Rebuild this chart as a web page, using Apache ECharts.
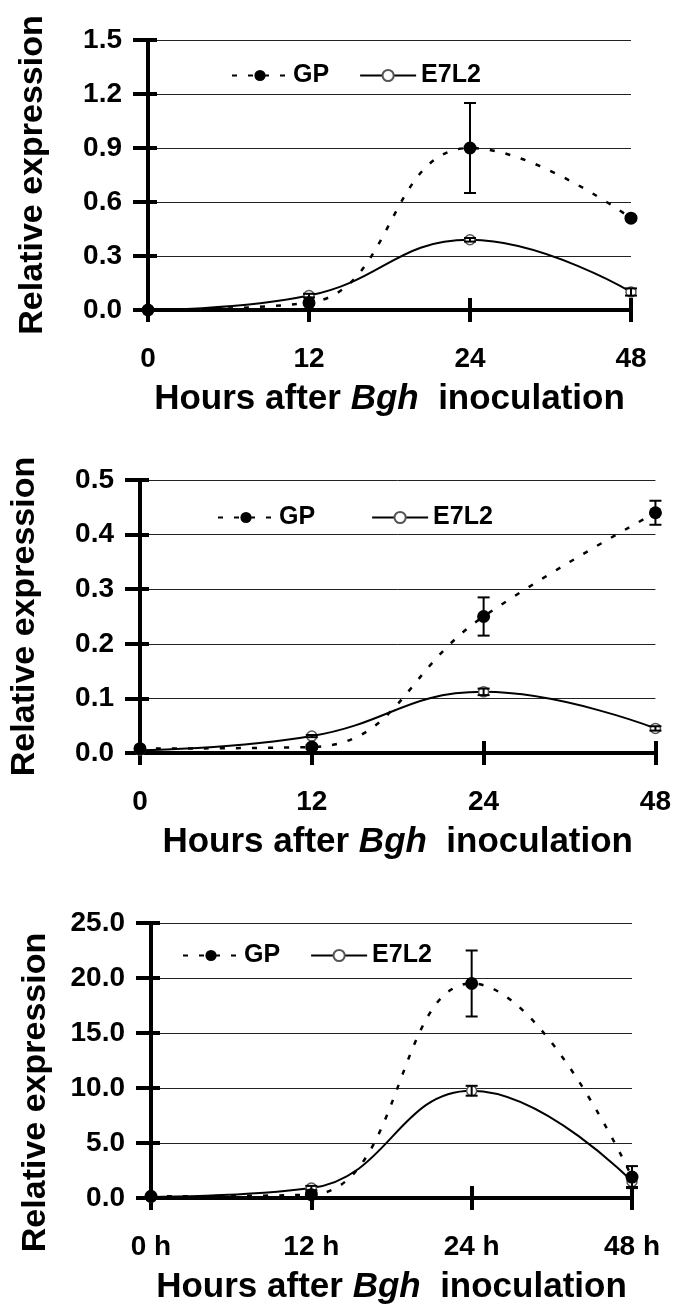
<!DOCTYPE html>
<html>
<head>
<meta charset="utf-8">
<script src="https://cdn.jsdelivr.net/npm/echarts@6/dist/echarts.min.js"></script>
<style>
html,body{margin:0;padding:0;background:#fff;}
#c{width:674px;height:1306px;}
</style>
</head>
<body>
<div id="c"></div>
<script>
// ---- data ----
const hoursA = ['0', '12', '24', '48'];
const hoursC = ['0 h', '12 h', '24 h', '48 h'];

const p1GP = [0.0, 0.04, 0.9, 0.51];
const p1GPerr = [0.0, 0.01, 0.25, 0.01];
const p1E7 = [0.0, 0.08, 0.39, 0.10];
const p1E7err = [0.0, 0.01, 0.01, 0.02];

const p2GP = [0.008, 0.011, 0.25, 0.44];
const p2GPerr = [0.0, 0.004, 0.035, 0.022];
const p2E7 = [0.005, 0.031, 0.112, 0.045];
const p2E7err = [0.0, 0.002, 0.006, 0.004];

const p3GP = [0.15, 0.3, 19.5, 1.9];
const p3GPerr = [0.05, 0.2, 3.0, 1.0];
const p3E7 = [0.1, 0.9, 9.75, 1.5];
const p3E7err = [0.0, 0.2, 0.45, 0.5];

const yTicks1 = {min: 0, max: 1.5, interval: 0.3};
const yTicks2 = {min: 0, max: 0.5, interval: 0.1};
const yTicks3 = {min: 0, max: 25, interval: 5};

const seriesNames = ['GP', 'E7L2'];
const xTitle = '{a|Hours after }{b|Bgh}{a|  inoculation}';
const yTitle = 'Relative expression';

// ---- layout ----
const grids = [
  {left: 148, right: 43, top: 40, height: 270},
  {left: 128, right: 15, top: 480, height: 273},
  {left: 151, right: 42, top: 923, height: 280}
];
const FONT = '"Liberation Sans", Arial, sans-serif';

function errData(vals, errs) {
  return vals.map((v, i) => [i, v - errs[i], v + errs[i]]);
}
function errRender(params, api) {
  const x = api.value(0);
  const lo = api.value(1), hi = api.value(2);
  const a = api.coord([x, hi]);
  const b = api.coord([x, lo]);
  const w = 6;
  const st = {stroke: '#000', lineWidth: 2};
  return {
    type: 'group',
    children: [
      {type: 'line', shape: {x1: a[0], y1: a[1], x2: b[0], y2: b[1]}, style: st},
      {type: 'line', shape: {x1: a[0] - w, y1: a[1], x2: a[0] + w, y2: a[1]}, style: st},
      {type: 'line', shape: {x1: b[0] - w, y1: b[1], x2: b[0] + w, y2: b[1]}, style: st}
    ]
  };
}

const xAxes = [], yAxes = [], series = [], legends = [];
const panels = [
  {cats: hoursA, gp: p1GP, gpe: p1GPerr, e7: p1E7, e7e: p1E7err, y: yTicks1,
   legend: {left: 226, top: 58, gap: 30}, yPad: [0, 0, 0, 0]},
  {cats: hoursA, gp: p2GP, gpe: p2GPerr, e7: p2E7, e7e: p2E7err, y: yTicks2,
   legend: {left: 212, top: 500, gap: 56}, yPad: [0, 0, 0, 0]},
  {cats: hoursC, gp: p3GP, gpe: p3GPerr, e7: p3E7, e7e: p3E7err, y: yTicks3,
   legend: {left: 177, top: 938, gap: 30}, yPad: [0, 64, 0, 0]}
];

panels.forEach((p, gi) => {
  const xi = xAxes.length, yi = yAxes.length;
  xAxes.push({
    type: 'category', gridIndex: gi, data: p.cats, boundaryGap: false, position: 'bottom',
    axisLine: {lineStyle: {color: '#000', width: 4}},
    axisTick: {show: true, length: 12, lineStyle: {color: '#000', width: 4}},
    axisLabel: {color: '#000', fontFamily: FONT, fontWeight: 'bold', fontSize: 28, margin: 35},
    splitLine: {show: false},
    name: xTitle, nameLocation: 'middle', nameGap: 72,
    nameTextStyle: {
      color: '#000', fontFamily: FONT, fontWeight: 'bold', fontSize: 35,
      rich: {
        a: {color: '#000', fontFamily: FONT, fontWeight: 'bold', fontSize: 35},
        b: {color: '#000', fontFamily: FONT, fontWeight: 'bold', fontStyle: 'italic', fontSize: 35}
      }
    }
  });
  xAxes.push({
    type: 'category', gridIndex: gi, data: p.cats, boundaryGap: false, position: 'bottom',
    axisLine: {show: false},
    axisTick: {show: true, inside: true, length: 12, lineStyle: {color: '#000', width: 4}},
    axisLabel: {show: false}, splitLine: {show: false}
  });
  yAxes.push({
    type: 'value', gridIndex: gi, min: p.y.min, max: p.y.max, interval: p.y.interval, position: 'left',
    axisLine: {show: true, lineStyle: {color: '#000', width: 4}},
    axisTick: {show: true, length: 15, lineStyle: {color: '#000', width: 4}},
    axisLabel: {color: '#000', fontFamily: FONT, fontWeight: 'bold', fontSize: 28, margin: 26,
      formatter: v => v.toFixed(1)},
    splitLine: {show: true, lineStyle: {color: '#222', width: 1}},
    name: yTitle, nameLocation: 'middle', nameRotate: 90, nameGap: 98,
    nameTextStyle: {color: '#000', fontFamily: FONT, fontWeight: 'bold', fontSize: 34, padding: p.yPad}
  });
  yAxes.push({
    type: 'value', gridIndex: gi, min: p.y.min, max: p.y.max, interval: p.y.interval, position: 'left',
    axisLine: {show: false},
    axisTick: {show: true, inside: true, length: 9, lineStyle: {color: '#000', width: 4}},
    axisLabel: {show: false}, splitLine: {show: false}
  });

  series.push({
    name: 'E7L2', type: 'line', xAxisIndex: xi, yAxisIndex: yi, data: p.e7,
    smooth: 0.45, clip: false, z: 3,
    symbol: 'circle', symbolSize: 10,
    itemStyle: {color: '#fff', borderColor: '#555', borderWidth: 1.5},
    lineStyle: {color: '#000', width: 2, type: 'solid'}
  });
  series.push({
    name: 'GP', type: 'line', xAxisIndex: xi, yAxisIndex: yi, data: p.gp,
    smooth: 0.45, clip: false, z: 4,
    symbol: 'circle', symbolSize: 13,
    itemStyle: {color: '#000'},
    lineStyle: {color: '#000', width: 2.5, type: [5, 11]}
  });
  series.push({
    type: 'custom', xAxisIndex: xi, yAxisIndex: yi, z: 5, clip: false,
    renderItem: errRender, encode: {x: 0, y: [1, 2]},
    data: errData(p.e7, p.e7e)
  });
  series.push({
    type: 'custom', xAxisIndex: xi, yAxisIndex: yi, z: 5, clip: false,
    renderItem: errRender, encode: {x: 0, y: [1, 2]},
    data: errData(p.gp, p.gpe)
  });

  legends.push({
    left: p.legend.left, top: p.legend.top, orient: 'horizontal',
    data: seriesNames,
    itemWidth: 56, itemHeight: 14, itemGap: p.legend.gap,
    selectedMode: false,
    textStyle: {color: '#000', fontFamily: FONT, fontWeight: 'bold', fontSize: 25}
  });
});

const chart = echarts.init(document.getElementById('c'), null, {renderer: 'canvas'});
chart.setOption({
  animation: false,
  backgroundColor: '#fff',
  grid: grids,
  xAxis: xAxes,
  yAxis: yAxes,
  legend: legends,
  series: series
});
</script>
</body>
</html>
